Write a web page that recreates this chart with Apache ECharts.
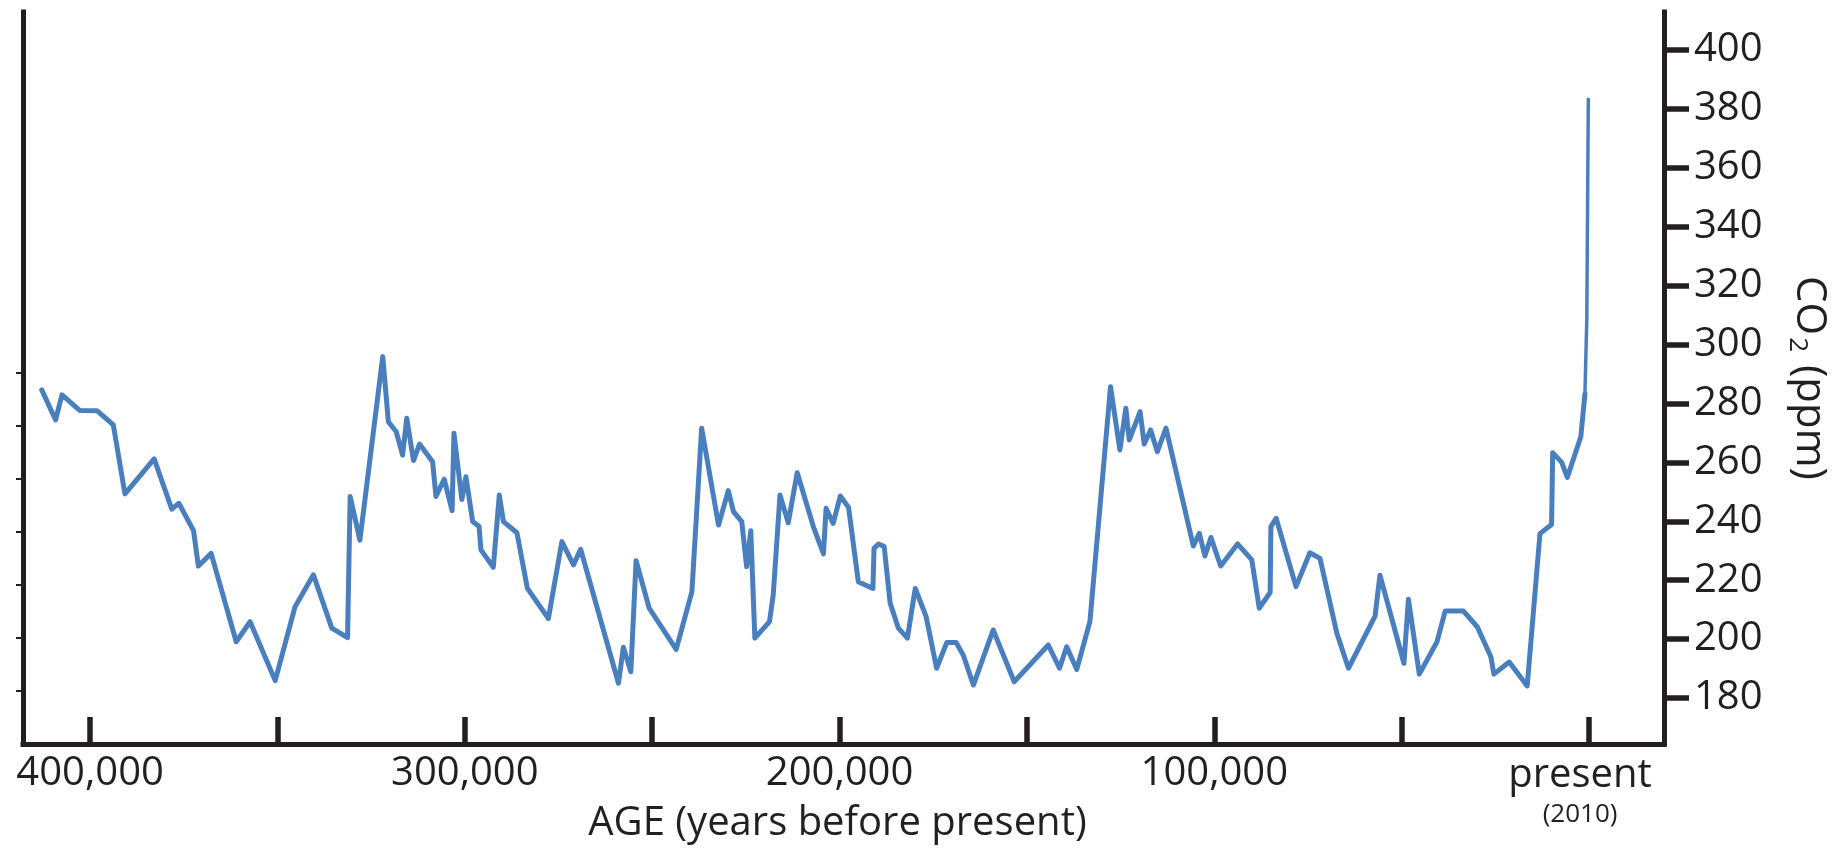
<!DOCTYPE html>
<html>
<head>
<meta charset="utf-8">
<script src="https://cdn.jsdelivr.net/npm/echarts@6/dist/echarts.min.js"></script>
<style>
  html, body { margin: 0; padding: 0; background: #ffffff; }
  #chart { width: 1844px; height: 851px; }
</style>
</head>
<body>
<div id="chart"></div>
<script>
// Ice-core CO2 record: age in thousands of years before present, CO2 in ppm.
const ageKyr = [
  412.9, 409.2, 407.5, 402.7, 398.1, 393.8, 390.7, 382.9, 378.2, 376.3,
  372.4, 371.1, 367.7, 361.0, 357.3, 350.6, 345.3, 340.4, 335.5, 331.3,
  330.6, 328.0, 321.9, 320.4, 318.3, 316.6, 315.5, 313.7, 312.1, 308.6,
  307.7, 305.5, 303.4, 302.9, 300.8, 299.7, 297.9, 296.2, 295.7, 292.4,
  290.8, 289.7, 286.1, 283.3, 277.7, 274.1, 271.0, 269.1, 259.0, 257.7,
  255.7, 254.3, 250.8, 243.6, 239.4, 236.8, 232.3, 229.7, 228.3, 226.1,
  224.8, 223.7, 222.6, 218.7, 217.7, 215.9, 213.7, 211.3, 207.0, 204.3,
  203.6, 201.7, 199.8, 197.6, 195.0, 191.1, 190.8, 189.6, 188.1, 186.5,
  184.3, 181.9, 179.8, 176.9, 174.1, 171.4, 168.9, 167.0, 164.3, 159.0,
  153.4, 144.3, 141.3, 139.4, 136.7, 133.2, 127.7, 125.2, 123.6, 122.7,
  119.8, 118.7, 117.0, 115.2, 112.9, 105.6, 104.0, 102.5, 100.9, 98.3,
  93.8, 90.0, 88.0, 85.1, 84.9, 83.5, 78.2, 74.5, 71.8, 67.3,
  64.2, 57.1, 55.8, 49.4, 48.2, 45.3, 40.6, 38.4, 33.5, 29.8,
  26.2, 25.4, 21.3, 16.5, 13.1, 10.0, 9.7, 7.3, 5.8, 2.2,
  1.1, 0.6, 0.2
];
const co2Ppm = [
  284.6, 274.4, 282.9, 277.6, 277.5, 272.7, 249.3, 261.2, 244.1, 246.1,
  236.8, 224.8, 229.1, 199.1, 205.9, 185.9, 211.0, 221.8, 203.7, 200.5,
  248.4, 233.6, 295.9, 273.8, 270.4, 262.5, 275.0, 260.6, 266.2, 260.2,
  248.4, 254.3, 243.6, 269.9, 247.4, 255.1, 239.9, 238.2, 230.3, 224.4,
  248.9, 239.9, 236.1, 217.2, 207.0, 233.1, 225.2, 230.5, 185.0, 197.2,
  188.9, 226.6, 210.5, 196.5, 216.1, 271.6, 238.7, 250.4, 243.3, 239.9,
  224.6, 236.8, 200.3, 205.9, 215.0, 248.9, 239.5, 256.5, 238.2, 228.9,
  244.4, 239.3, 248.6, 244.7, 219.5, 217.2, 230.8, 232.3, 231.4, 212.2,
  203.7, 200.3, 217.2, 207.6, 190.1, 198.8, 198.8, 194.6, 184.4, 203.1,
  185.5, 198.0, 190.1, 197.4, 189.7, 205.9, 285.7, 264.2, 278.4, 267.6,
  277.2, 266.2, 271.0, 263.6, 271.6, 231.6, 235.9, 228.2, 234.5, 224.8,
  232.3, 226.9, 210.5, 215.8, 238.2, 241.0, 217.8, 229.3, 227.4, 202.0,
  190.1, 207.8, 221.7, 191.8, 213.5, 188.1, 199.0, 209.5, 209.5, 204.1,
  194.0, 188.1, 192.2, 184.1, 235.8, 238.9, 263.3, 260.0, 254.9, 268.7,
  283.2, 308.6, 383.3
];
// The industrial-era rise is drawn with a finer stroke from this point on.
const modernStartIndex = 140;

// Axis ticks and labels.
const ageTicks = [0, 50, 100, 150, 200, 250, 300, 350, 400];
const ageLabels = [0, 100, 200, 300, 400];
const presentLabel = 'present';
const presentYear = '(2010)';
const co2Ticks = [180, 200, 220, 240, 260, 280, 300, 320, 340, 360, 380, 400];
const leftFrameTicks = [1, 2, 3, 4, 5, 6, 7];
const xAxisTitle = 'AGE (years before present)';

const INK = '#231f20';
const LINE = '#4a7fbf';
const FONT = 'Open Sans';

const pairs = ageKyr.map((a, i) => [a, co2Ppm[i]]);
const glacialPart = pairs.slice(0, modernStartIndex + 1);
const modernPart = pairs.slice(modernStartIndex);

const chart = echarts.init(document.getElementById('chart'), null, { renderer: 'canvas' });

chart.setOption({
  animation: false,
  backgroundColor: '#ffffff',
  grid: {
    left: 23, right: 180, top: 12, bottom: 107,
    containLabel: false,
    outerBoundsMode: 'none'
  },
  xAxis: {
    type: 'value',
    inverse: true,
    min: -20.0,
    max: 417.9,
    axisLine: { show: true, onZero: false, lineStyle: { color: INK, width: 5, cap: 'square' } },
    axisTick: { show: true, inside: true, length: 27, customValues: ageTicks,
                lineStyle: { color: INK, width: 5.5 } },
    axisLabel: {
      customValues: ageLabels,
      margin: 10,
      color: INK,
      fontFamily: FONT,
      fontSize: 40,
      formatter: function (v) {
        if (v === 0) return '{p|' + presentLabel + '}\n{q|' + presentYear + '}';
        return (v * 1000).toLocaleString('en-US');
      },
      rich: {
        p: { fontFamily: FONT, fontSize: 40, color: INK, lineHeight: 44, padding: [0, 18, 0, 0] },
        q: { fontFamily: FONT, fontSize: 26, color: INK, lineHeight: 34, padding: [0, 18, 0, 0] }
      }
    },
    splitLine: { show: false },
    name: xAxisTitle,
    nameLocation: 'middle',
    nameGap: 60,
    nameMoveOverlap: false,
    nameTextStyle: { fontFamily: FONT, fontSize: 40, color: INK, padding: [0, 12, 0, 0] }
  },
  yAxis: [
    {
      type: 'value',
      position: 'right',
      min: 164.38,
      max: 412.9,
      axisLine: { show: true, onZero: false, lineStyle: { color: INK, width: 5, cap: 'square' } },
      axisTick: { show: true, inside: false, length: 25, customValues: co2Ticks,
                  lineStyle: { color: INK, width: 5.5 } },
      axisLabel: { customValues: co2Ticks, margin: 30, color: INK, fontFamily: FONT, fontSize: 40 },
      splitLine: { show: false },
      name: '{a|CO}{s|2}{a| (ppm)}',
      nameLocation: 'middle',
      nameRotate: -90,
      nameGap: 120,
      nameMoveOverlap: false,
      nameTextStyle: {
        rich: {
          a: { fontFamily: FONT, fontSize: 42, color: INK, lineHeight: 50 },
          s: { fontFamily: FONT, fontSize: 26, color: INK, lineHeight: 50, verticalAlign: 'bottom', padding: [0, 2, 0, 2] }
        }
      }
    },
    {
      type: 'value',
      position: 'left',
      min: 0,
      max: 13.8,
      axisLine: { show: true, onZero: false, lineStyle: { color: INK, width: 5, cap: 'square' } },
      axisTick: { show: true, inside: false, length: 7, customValues: leftFrameTicks,
                  lineStyle: { color: INK, width: 2 } },
      axisLabel: { show: false },
      splitLine: { show: false }
    }
  ],
  series: [
    {
      type: 'line',
      yAxisIndex: 0,
      data: glacialPart,
      symbol: 'none',
      lineStyle: { color: LINE, width: 5, join: 'round', cap: 'round' }
    },
    {
      type: 'line',
      yAxisIndex: 0,
      data: modernPart,
      symbol: 'none',
      lineStyle: { color: LINE, width: 3.5, join: 'round', cap: 'round' }
    }
  ]
});
</script>
</body>
</html>
